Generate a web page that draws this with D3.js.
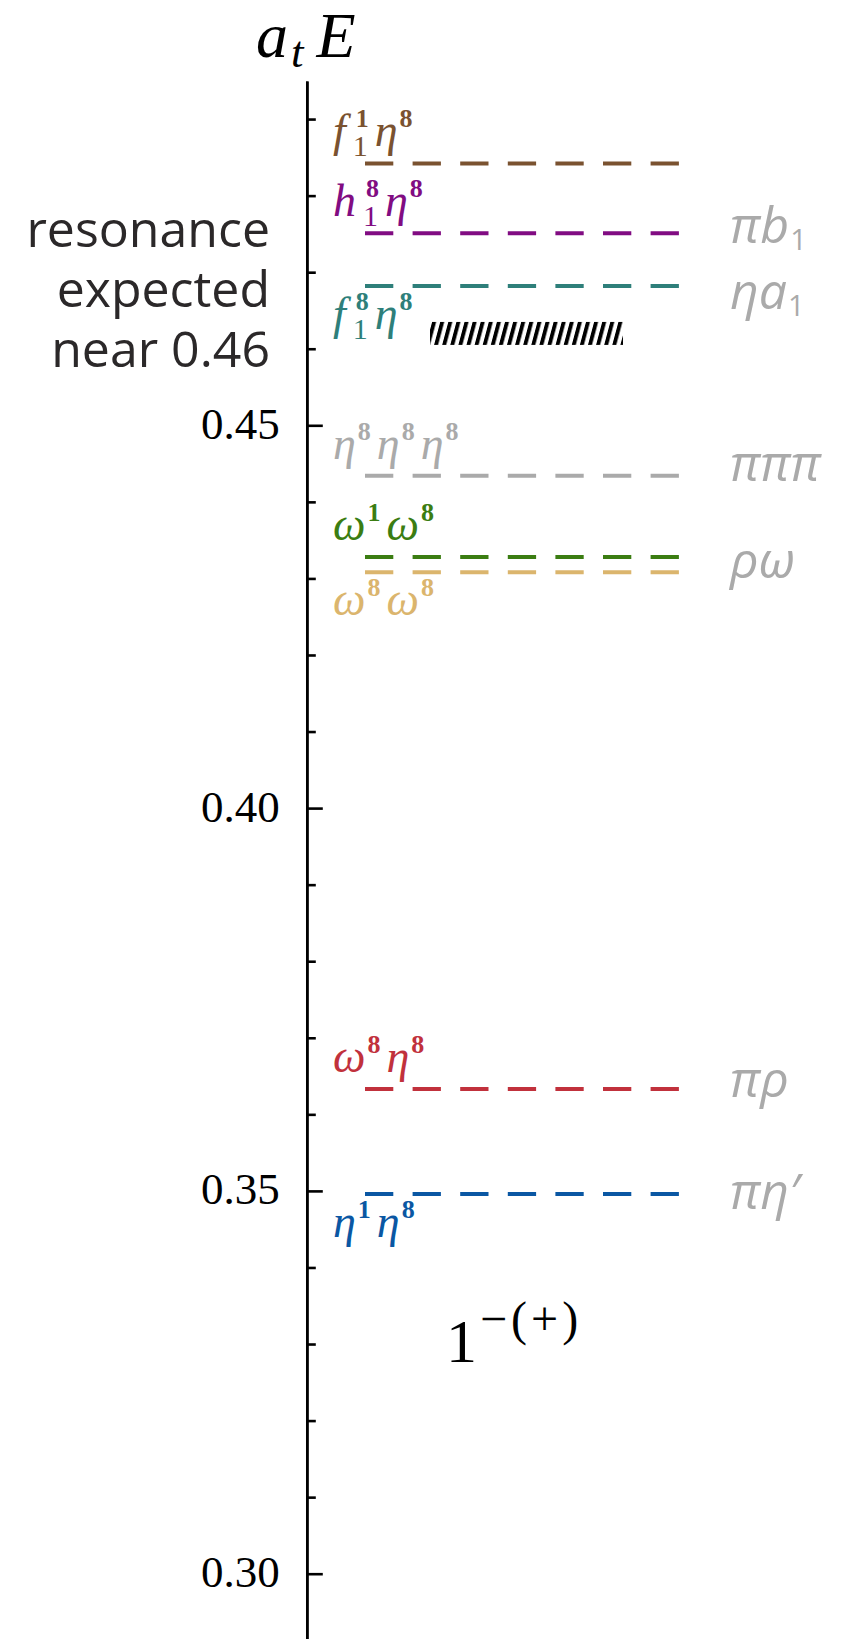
<!DOCTYPE html>
<html>
<head>
<meta charset="utf-8">
<script src="https://cdn.jsdelivr.net/npm/d3@7"></script>
<style>
  body { margin: 0; background: #fff; }
  svg { display: block; }
</style>
</head>
<body>
<svg id="chart" width="853" height="1639"></svg>
<script>
// ---- data -------------------------------------------------------------
// Non-interacting meson-meson (and three-meson) thresholds, in a_t E
const levelEnergies = [0.4842, 0.4751, 0.4682, 0.4434, 0.4328, 0.4308, 0.3633, 0.3496];
const levelColors   = ["#7a5230", "#810c82", "#2e7f7a", "#aaaaaa", "#3b7d12", "#dbb56d", "#c1313c", "#0a57a3"];
// each label is a list of [base, subscript, superscript]
const levelLabels = [
  [["f", "1", "1"], ["η", "", "8"]],
  [["h", "1", "8"], ["η", "", "8"]],
  [["f", "1", "8"], ["η", "", "8"]],
  [["η", "", "8"], ["η", "", "8"], ["η", "", "8"]],
  [["ω", "", "1"], ["ω", "", "8"]],
  [["ω", "", "8"], ["ω", "", "8"]],
  [["ω", "", "8"], ["η", "", "8"]],
  [["η", "", "1"], ["η", "", "8"]]
];
const labelBelow = [false, false, true, false, false, true, false, true];

// corresponding channels with physical light quarks
const channelLabels = [
  [["πb", "1", ""]],
  [["ηa", "1", ""]],
  [["πππ", "", ""]],
  [["ρω", "", ""]],
  [["πρ", "", ""]],
  [["πη′", "", ""]]
];
const channelEnergies = [0.4755, 0.4669, 0.4444, 0.4318, 0.3640, 0.3493];

// energy window where the resonance is expected
const resonanceBand = [0.4605, 0.4635];

const majorTicks = [0.30, 0.35, 0.40, 0.45];
const minorTicks = d3.range(30, 50).map(d => d / 100).filter(d => !majorTicks.some(m => Math.abs(m - d) < 1e-9));

// ---- layout -----------------------------------------------------------
const W = 853, H = 1639;
const axisX = 306.8;
const lineX0 = 365, lineX1 = 679;
const labelX = 333;
const channelX = 730;
const bandX0 = 430, bandX1 = 623;

const svg = d3.select("#chart");
svg.append("rect").attr("width", W).attr("height", H).attr("fill", "#fff");

// vertical energy scale, calibrated on two ticks then extended to the drawing area
const y = d3.scaleLinear().domain([0.30, 0.45]).range([1573.7, 425.3]);
y.domain([y.invert(H), y.invert(81)]).range([H, 81]);

const SERIF = "'Liberation Serif', 'Times New Roman', serif";
const SANS = "'Open Sans', 'Noto Sans', sans-serif";

// base letters with stacked sub/superscripts, measured after drawing
function richText(g, tokens, x, baseY, o) {
  let cx = x;
  tokens.forEach(([base, sub, sup]) => {
    const t = g.append("text")
      .attr("x", cx).attr("y", baseY)
      .attr("fill", o.color)
      .style("font-family", o.family)
      .style("font-size", o.size + "px")
      .style("font-style", o.style || "normal")
      .text(base);
    cx += t.node().getComputedTextLength() + (o.afterBase || 0) + (sub ? (o.subBaseGap || 0) : 0);
    let w = 0;
    if (sup) {
      const s = g.append("text")
        .attr("x", cx).attr("y", baseY - o.supRise)
        .attr("fill", o.color)
        .style("font-family", o.supFamily || o.family)
        .style("font-size", o.supSize + "px")
        .style("font-weight", o.supWeight || "normal")
        .style("font-style", o.supStyle || "normal")
        .style("letter-spacing", (o.supSpacing || 0) + "px")
        .text(sup);
      w = Math.max(w, s.node().getComputedTextLength());
    }
    if (sub) {
      const s = g.append("text")
        .attr("x", cx - (o.subKern || 0)).attr("y", baseY + o.subDrop)
        .attr("fill", o.color)
        .style("font-family", o.subFamily || o.family)
        .style("font-size", o.subSize + "px")
        .style("font-style", o.subStyle || "normal")
        .text(sub);
      w = Math.max(w, s.node().getComputedTextLength() - (o.subKern || 0));
    }
    cx += w + (w ? (o.afterScript || 0) : 0);
  });
  return cx - x;
}

// ---- axis -------------------------------------------------------------
const axisG = svg.append("g").attr("transform", `translate(${axisX},0)`);

const minorAxis = d3.axisLeft(y).tickValues(minorTicks).tickSizeInner(-9).tickSizeOuter(0).tickFormat("");
const majorAxis = d3.axisLeft(y).tickValues(majorTicks).tickSizeInner(-16).tickSizeOuter(0)
  .tickPadding(27).tickFormat(d3.format(".2f"));

axisG.append("g").call(minorAxis);
axisG.append("g").call(majorAxis);

axisG.selectAll(".domain").attr("stroke", "#000").attr("stroke-width", 2.6);
axisG.selectAll(".tick line").attr("stroke", "#000").attr("stroke-width", 2.6);
axisG.selectAll(".tick text")
  .attr("fill", "#000")
  .attr("dy", "0.29em")
  .style("font-family", SERIF)
  .style("font-size", "45px");

// axis title a_t E
richText(svg.append("g"), [["a", "t", ""], ["E", "", ""]], 256, 57, {
  color: "#000", family: SERIF, size: 64, style: "italic", afterBase: 3,
  subSize: 45, subDrop: 10, subStyle: "italic", afterScript: 13
});

// ---- resonance window ---------------------------------------------------
const defs = svg.append("defs");
const pat = defs.append("pattern")
  .attr("id", "hatch")
  .attr("patternUnits", "userSpaceOnUse")
  .attr("width", 8.1).attr("height", 40)
  .attr("patternTransform", "skewX(-15)");
pat.append("rect").attr("x", 0).attr("y", 0).attr("width", 4.0).attr("height", 40).attr("fill", "#000");

svg.append("rect")
  .attr("x", bandX0)
  .attr("y", y(resonanceBand[1]))
  .attr("width", bandX1 - bandX0)
  .attr("height", y(resonanceBand[0]) - y(resonanceBand[1]))
  .attr("fill", "url(#hatch)");

// ---- threshold levels ---------------------------------------------------
const levelsG = svg.append("g");
levelsG.selectAll("line")
  .data(levelEnergies)
  .join("line")
  .attr("x1", lineX0).attr("x2", lineX1)
  .attr("y1", d => y(d)).attr("y2", d => y(d))
  .attr("stroke", (d, i) => levelColors[i])
  .attr("stroke-width", 4)
  .attr("stroke-dasharray", "28.3 19.3");

levelEnergies.forEach((e, i) => {
  const baseY = labelBelow[i] ? y(e) + 43 : y(e) - 17;
  richText(levelsG.append("g"), levelLabels[i], labelX, baseY, {
    color: levelColors[i], family: SERIF, size: 46, style: "italic",
    supSize: 26, supRise: 19, supWeight: "bold", afterBase: 2, subBaseGap: 8,
    subSize: 30, subDrop: 10, subKern: 3, afterScript: 6
  });
});

// ---- physical channels --------------------------------------------------
const chG = svg.append("g");
channelEnergies.forEach((e, i) => {
  richText(chG.append("g"), channelLabels[i], channelX, y(e) + 13, {
    color: "#aaaaaa", family: SANS, size: 50, style: "italic",
    subSize: 29, subDrop: 7, subStyle: "normal", afterBase: 1
  });
});

// ---- annotation text ----------------------------------------------------
const note = svg.append("text")
  .attr("text-anchor", "end")
  .attr("fill", "#2b2829")
  .style("font-family", SANS)
  .style("font-size", "50px");
["resonance", "expected", "near 0.46"].forEach((s, i) => {
  note.append("tspan").attr("x", 270).attr("y", 247 + i * 60).text(s);
});

// quantum numbers J^{PC}
richText(svg.append("g"), [["1", "", "−(+)"]], 446, 1362, {
  color: "#000", family: SERIF, size: 62,
  supSize: 48, supRise: 27, supSpacing: 4, afterBase: 3
});
</script>
</body>
</html>
